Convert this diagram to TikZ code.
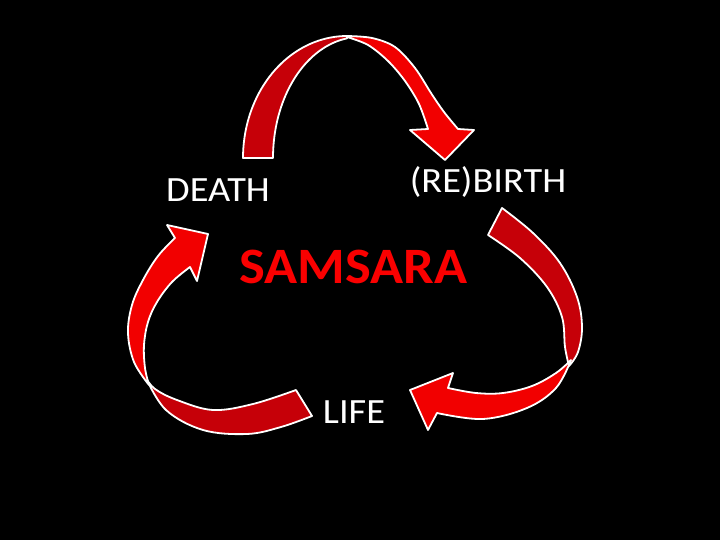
\documentclass[tikz,border=0pt]{standalone}
\usepackage{fontspec}
\setmainfont{Carlito}
\definecolor{frontred}{RGB}{242,0,0}
\definecolor{backred}{RGB}{198,0,8}
\definecolor{textred}{RGB}{250,0,0}
\begin{document}
\begin{tikzpicture}[x=1pt,y=-1pt,
  frontpart/.style={fill=frontred,draw=white,line width=1.8pt,line join=round},
  backpart/.style={fill=backred,draw=white,line width=1.8pt,line join=round},
  label/.style={text=white,font=\fontsize{35.5}{42}\selectfont,inner sep=0pt,anchor=base,xscale=1.08},
  title/.style={text=textred,font=\fontsize{51}{60}\selectfont\bfseries,inner sep=0pt,anchor=base,xscale=1.07}]
\fill[black] (0,0) rectangle (720,540);
\useasboundingbox (0,0) rectangle (720,540);
% top arrow: back part
\path[backpart] plot[domain=180:270,samples=40] ({347+104*cos(\x)},{158+122*sin(\x)})
  -- plot[domain=261.4:180,samples=40] ({360+87*cos(\x)},{158+121*sin(\x)}) -- cycle;
% top arrow: front part
\path[frontpart] plot[smooth,tension=0.55] coordinates {(347,36) (372,38) (395,47) (415,68) (431,93) (444,112) (458,129)}
  -- (474,130) -- (445,160) -- (410,130) -- (428,129)
  -- plot[smooth,tension=0.55] coordinates {(428,129) (419,104) (405,81) (388,61) (368,45) (347,37)} -- cycle;
% left arrow: back part
\path[backpart] plot[smooth,tension=0.6] coordinates {(146,378) (166,410) (203,430) (247,434) (281,427) (312,416)}
  -- (296,390)
  -- plot[smooth,tension=0.6] coordinates {(296,390) (253,404) (213,410) (177,400) (155,389) (146,378)} -- cycle;
% left arrow: front part
\path[frontpart] plot[smooth,tension=0.6] coordinates {(149,385) (134,362) (128,333) (132,305) (143,280) (158,256) (175,238)}
  -- (167,225) -- (208,234) -- (197,281) -- (190,267)
  -- plot[smooth,tension=0.6] coordinates {(190,267) (172,282) (157,302) (148,322) (144,345) (145,368) (149,385)} -- cycle;
% right arrow: back part
\path[backpart] plot[smooth,tension=0.6] coordinates {(502,208) (533,233) (560,263) (577,297) (582,327) (578,352) (569,366)}
  -- plot[smooth,tension=0.6] coordinates {(569,366) (565,347) (562,317) (547,287) (520,258) (488,235)} -- cycle;
% right arrow: front part
\path[frontpart] plot[smooth,tension=0.6] coordinates {(571,360) (556,373) (532,386) (503,393) (476,393) (448,388)}
  -- (453,373) -- (410,390) -- (428,430) -- (437,413)
  -- plot[smooth,tension=0.6] coordinates {(437,413) (483,419) (527,408) (556,388) (571,360)} -- cycle;
% texts
\node[label] (death) at (218,202) {DEATH};
\node[label] (rebirth) at (488,193) {(RE)BIRTH};
\node[title] (samsara) at (353.5,283) {SAMSARA};
\node[label] (life) at (354,423) {LIFE};
\end{tikzpicture}
\end{document}
